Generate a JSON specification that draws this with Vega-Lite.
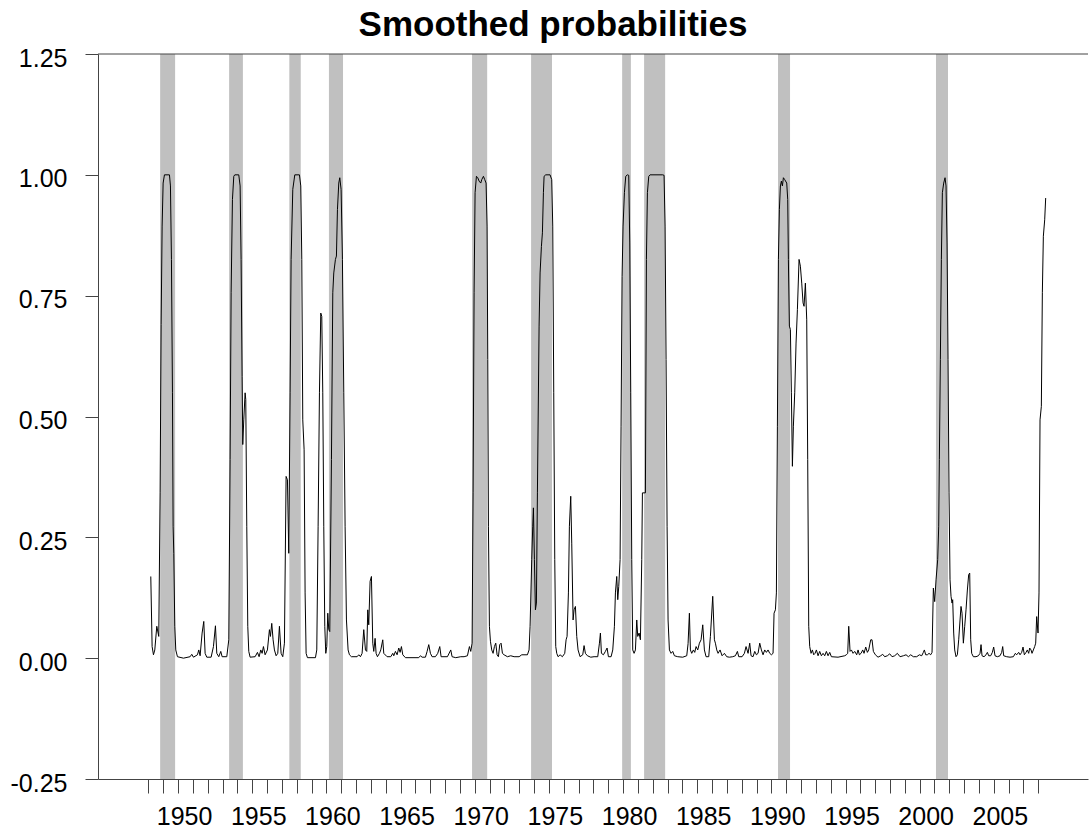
{
  "$schema": "https://vega.github.io/schema/vega-lite/v6.json",
  "width": 990,
  "height": 725,
  "autosize": {"type": "none"},
  "padding": {"left": 98, "top": 54, "right": 3, "bottom": 51},
  "background": "white",
  "title": {"text": "Smoothed probabilities", "font": "Liberation Sans", "fontSize": 35, "fontWeight": "bold", "color": "black", "anchor": "middle", "frame": "group", "baseline": "alphabetic", "offset": -25, "dx": -40},
  "config": {"view": {"stroke": null}},
  "datasets": {
    "recessions": [
      {"start": 1948.79, "end": 1949.8},
      {"start": 1953.44, "end": 1954.37},
      {"start": 1957.5, "end": 1958.27},
      {"start": 1960.17, "end": 1961.12},
      {"start": 1969.82, "end": 1970.84},
      {"start": 1973.8, "end": 1975.21},
      {"start": 1979.94, "end": 1980.53},
      {"start": 1981.42, "end": 1982.84},
      {"start": 1990.45, "end": 1991.26},
      {"start": 2001.1, "end": 2001.91}
    ],
    "probs": [
      {"date": 1948.159, "prob": 0.169}, {"date": 1948.249, "prob": 0.024}, {"date": 1948.339, "prob": 0.007}, {"date": 1948.429, "prob": 0.017},
      {"date": 1948.564, "prob": 0.066}, {"date": 1948.698, "prob": 0.045}, {"date": 1948.788, "prob": 0.342}, {"date": 1948.856, "prob": 0.69},
      {"date": 1948.923, "prob": 0.894}, {"date": 1948.991, "prob": 0.983}, {"date": 1949.08, "prob": 1.0}, {"date": 1949.418, "prob": 1.0},
      {"date": 1949.485, "prob": 0.977}, {"date": 1949.552, "prob": 0.825}, {"date": 1949.62, "prob": 0.549}, {"date": 1949.665, "prob": 0.273},
      {"date": 1949.71, "prob": 0.217}, {"date": 1949.777, "prob": 0.066}, {"date": 1949.844, "prob": 0.017}, {"date": 1949.957, "prob": 0.003},
      {"date": 1950.361, "prob": 0.0}, {"date": 1950.811, "prob": 0.003}, {"date": 1950.923, "prob": 0.008}, {"date": 1951.036, "prob": 0.002},
      {"date": 1951.305, "prob": 0.007}, {"date": 1951.395, "prob": 0.017}, {"date": 1951.485, "prob": 0.005}, {"date": 1951.62, "prob": 0.052},
      {"date": 1951.732, "prob": 0.076}, {"date": 1951.822, "prob": 0.01}, {"date": 1951.934, "prob": 0.002}, {"date": 1952.227, "prob": 0.002},
      {"date": 1952.384, "prob": 0.024}, {"date": 1952.519, "prob": 0.067}, {"date": 1952.609, "prob": 0.01}, {"date": 1952.743, "prob": 0.003},
      {"date": 1952.878, "prob": 0.014}, {"date": 1952.968, "prob": 0.003}, {"date": 1953.283, "prob": 0.003}, {"date": 1953.418, "prob": 0.038},
      {"date": 1953.507, "prob": 0.411}, {"date": 1953.575, "prob": 0.756}, {"date": 1953.665, "prob": 0.949}, {"date": 1953.755, "prob": 0.997},
      {"date": 1953.822, "prob": 1.0}, {"date": 1954.092, "prob": 1.0}, {"date": 1954.182, "prob": 0.977}, {"date": 1954.249, "prob": 0.825},
      {"date": 1954.316, "prob": 0.583}, {"date": 1954.361, "prob": 0.442}, {"date": 1954.429, "prob": 0.493}, {"date": 1954.519, "prob": 0.549},
      {"date": 1954.564, "prob": 0.535}, {"date": 1954.631, "prob": 0.273}, {"date": 1954.698, "prob": 0.066}, {"date": 1954.766, "prob": 0.014},
      {"date": 1954.856, "prob": 0.002}, {"date": 1955.193, "prob": 0.003}, {"date": 1955.35, "prob": 0.012}, {"date": 1955.462, "prob": 0.003},
      {"date": 1955.575, "prob": 0.017}, {"date": 1955.665, "prob": 0.01}, {"date": 1955.755, "prob": 0.024}, {"date": 1955.867, "prob": 0.007},
      {"date": 1956.024, "prob": 0.017}, {"date": 1956.159, "prob": 0.059}, {"date": 1956.227, "prob": 0.045}, {"date": 1956.316, "prob": 0.072},
      {"date": 1956.406, "prob": 0.038}, {"date": 1956.496, "prob": 0.017}, {"date": 1956.609, "prob": 0.005}, {"date": 1956.721, "prob": 0.01},
      {"date": 1956.833, "prob": 0.066}, {"date": 1956.946, "prob": 0.01}, {"date": 1957.058, "prob": 0.003}, {"date": 1957.17, "prob": 0.031},
      {"date": 1957.283, "prob": 0.376}, {"date": 1957.373, "prob": 0.369}, {"date": 1957.462, "prob": 0.217}, {"date": 1957.552, "prob": 0.549},
      {"date": 1957.62, "prob": 0.825}, {"date": 1957.733, "prob": 0.97}, {"date": 1957.868, "prob": 1.0}, {"date": 1958.182, "prob": 1.0},
      {"date": 1958.272, "prob": 0.977}, {"date": 1958.34, "prob": 0.825}, {"date": 1958.407, "prob": 0.493}, {"date": 1958.497, "prob": 0.431},
      {"date": 1958.564, "prob": 0.135}, {"date": 1958.632, "prob": 0.01}, {"date": 1958.722, "prob": 0.001}, {"date": 1959.261, "prob": 0.001},
      {"date": 1959.351, "prob": 0.017}, {"date": 1959.441, "prob": 0.273}, {"date": 1959.531, "prob": 0.549}, {"date": 1959.62, "prob": 0.714},
      {"date": 1959.688, "prob": 0.707}, {"date": 1959.755, "prob": 0.549}, {"date": 1959.823, "prob": 0.273}, {"date": 1959.89, "prob": 0.066},
      {"date": 1959.958, "prob": 0.01}, {"date": 1960.025, "prob": 0.024}, {"date": 1960.092, "prob": 0.093}, {"date": 1960.16, "prob": 0.059},
      {"date": 1960.227, "prob": 0.055}, {"date": 1960.34, "prob": 0.411}, {"date": 1960.43, "prob": 0.756}, {"date": 1960.497, "prob": 0.797},
      {"date": 1960.609, "prob": 0.825}, {"date": 1960.676, "prob": 0.832}, {"date": 1960.744, "prob": 0.928}, {"date": 1960.834, "prob": 0.983},
      {"date": 1960.901, "prob": 0.994}, {"date": 1960.991, "prob": 0.97}, {"date": 1961.081, "prob": 0.825}, {"date": 1961.171, "prob": 0.549},
      {"date": 1961.261, "prob": 0.273}, {"date": 1961.351, "prob": 0.079}, {"date": 1961.463, "prob": 0.017}, {"date": 1961.553, "prob": 0.007},
      {"date": 1961.688, "prob": 0.003}, {"date": 1962.07, "prob": 0.003}, {"date": 1962.182, "prob": 0.007}, {"date": 1962.295, "prob": 0.003},
      {"date": 1962.407, "prob": 0.01}, {"date": 1962.519, "prob": 0.059}, {"date": 1962.632, "prob": 0.017}, {"date": 1962.721, "prob": 0.014},
      {"date": 1962.789, "prob": 0.1}, {"date": 1962.856, "prob": 0.069}, {"date": 1962.946, "prob": 0.159}, {"date": 1963.036, "prob": 0.169},
      {"date": 1963.126, "prob": 0.031}, {"date": 1963.193, "prob": 0.014}, {"date": 1963.283, "prob": 0.041}, {"date": 1963.351, "prob": 0.01},
      {"date": 1963.441, "prob": 0.003}, {"date": 1963.576, "prob": 0.01}, {"date": 1963.666, "prob": 0.017}, {"date": 1963.8, "prob": 0.038},
      {"date": 1963.868, "prob": 0.01}, {"date": 1964.092, "prob": 0.003}, {"date": 1964.34, "prob": 0.003}, {"date": 1964.475, "prob": 0.01},
      {"date": 1964.542, "prob": 0.005}, {"date": 1964.654, "prob": 0.014}, {"date": 1964.767, "prob": 0.007}, {"date": 1964.879, "prob": 0.021},
      {"date": 1964.969, "prob": 0.012}, {"date": 1965.059, "prob": 0.024}, {"date": 1965.149, "prob": 0.007}, {"date": 1965.328, "prob": 0.001},
      {"date": 1966.227, "prob": 0.001}, {"date": 1966.34, "prob": 0.005}, {"date": 1966.452, "prob": 0.002}, {"date": 1966.677, "prob": 0.002},
      {"date": 1966.789, "prob": 0.014}, {"date": 1966.901, "prob": 0.028}, {"date": 1967.014, "prob": 0.01}, {"date": 1967.126, "prob": 0.003},
      {"date": 1967.351, "prob": 0.003}, {"date": 1967.508, "prob": 0.01}, {"date": 1967.643, "prob": 0.024}, {"date": 1967.733, "prob": 0.003},
      {"date": 1968.16, "prob": 0.003}, {"date": 1968.384, "prob": 0.017}, {"date": 1968.474, "prob": 0.003}, {"date": 1968.722, "prob": 0.001},
      {"date": 1969.059, "prob": 0.003}, {"date": 1969.283, "prob": 0.003}, {"date": 1969.508, "prob": 0.005}, {"date": 1969.643, "prob": 0.024},
      {"date": 1969.733, "prob": 0.014}, {"date": 1969.823, "prob": 0.031}, {"date": 1969.89, "prob": 0.342}, {"date": 1969.957, "prob": 0.756},
      {"date": 1970.025, "prob": 0.963}, {"date": 1970.115, "prob": 0.997}, {"date": 1970.205, "prob": 0.994}, {"date": 1970.295, "prob": 0.987},
      {"date": 1970.407, "prob": 0.983}, {"date": 1970.474, "prob": 0.99}, {"date": 1970.587, "prob": 0.997}, {"date": 1970.677, "prob": 0.99},
      {"date": 1970.766, "prob": 0.983}, {"date": 1970.834, "prob": 0.894}, {"date": 1970.879, "prob": 0.618}, {"date": 1970.924, "prob": 0.273},
      {"date": 1970.991, "prob": 0.066}, {"date": 1971.059, "prob": 0.035}, {"date": 1971.148, "prob": 0.017}, {"date": 1971.238, "prob": 0.01},
      {"date": 1971.328, "prob": 0.024}, {"date": 1971.418, "prob": 0.031}, {"date": 1971.508, "prob": 0.007}, {"date": 1971.598, "prob": 0.003},
      {"date": 1971.688, "prob": 0.028}, {"date": 1971.778, "prob": 0.031}, {"date": 1971.868, "prob": 0.01}, {"date": 1971.98, "prob": 0.007},
      {"date": 1972.205, "prob": 0.003}, {"date": 1972.429, "prob": 0.005}, {"date": 1972.654, "prob": 0.003}, {"date": 1972.991, "prob": 0.003},
      {"date": 1973.171, "prob": 0.007}, {"date": 1973.553, "prob": 0.007}, {"date": 1973.665, "prob": 0.017}, {"date": 1973.733, "prob": 0.066},
      {"date": 1973.845, "prob": 0.204}, {"date": 1973.912, "prob": 0.273}, {"date": 1973.957, "prob": 0.311}, {"date": 1974.025, "prob": 0.204},
      {"date": 1974.092, "prob": 0.1}, {"date": 1974.16, "prob": 0.114}, {"date": 1974.227, "prob": 0.342}, {"date": 1974.34, "prob": 0.687},
      {"date": 1974.407, "prob": 0.797}, {"date": 1974.497, "prob": 0.852}, {"date": 1974.564, "prob": 0.88}, {"date": 1974.632, "prob": 0.963},
      {"date": 1974.677, "prob": 0.997}, {"date": 1974.789, "prob": 1.0}, {"date": 1975.081, "prob": 1.0}, {"date": 1975.193, "prob": 0.99},
      {"date": 1975.261, "prob": 0.894}, {"date": 1975.328, "prob": 0.549}, {"date": 1975.396, "prob": 0.204}, {"date": 1975.463, "prob": 0.024},
      {"date": 1975.53, "prob": 0.01}, {"date": 1975.62, "prob": 0.003}, {"date": 1975.755, "prob": 0.007}, {"date": 1975.912, "prob": 0.003},
      {"date": 1976.07, "prob": 0.01}, {"date": 1976.16, "prob": 0.038}, {"date": 1976.227, "prob": 0.045}, {"date": 1976.317, "prob": 0.135},
      {"date": 1976.384, "prob": 0.273}, {"date": 1976.474, "prob": 0.335}, {"date": 1976.542, "prob": 0.238}, {"date": 1976.632, "prob": 0.079},
      {"date": 1976.699, "prob": 0.1}, {"date": 1976.789, "prob": 0.107}, {"date": 1976.879, "prob": 0.045}, {"date": 1976.968, "prob": 0.017},
      {"date": 1977.103, "prob": 0.003}, {"date": 1977.283, "prob": 0.007}, {"date": 1977.373, "prob": 0.026}, {"date": 1977.463, "prob": 0.01},
      {"date": 1977.598, "prob": 0.005}, {"date": 1977.823, "prob": 0.002}, {"date": 1978.047, "prob": 0.003}, {"date": 1978.295, "prob": 0.003},
      {"date": 1978.408, "prob": 0.031}, {"date": 1978.475, "prob": 0.052}, {"date": 1978.543, "prob": 0.01}, {"date": 1978.677, "prob": 0.007},
      {"date": 1978.812, "prob": 0.014}, {"date": 1978.925, "prob": 0.021}, {"date": 1979.014, "prob": 0.003}, {"date": 1979.194, "prob": 0.003},
      {"date": 1979.307, "prob": 0.017}, {"date": 1979.419, "prob": 0.066}, {"date": 1979.486, "prob": 0.135}, {"date": 1979.576, "prob": 0.169},
      {"date": 1979.644, "prob": 0.121}, {"date": 1979.711, "prob": 0.148}, {"date": 1979.801, "prob": 0.204}, {"date": 1979.868, "prob": 0.48},
      {"date": 1979.936, "prob": 0.79}, {"date": 1980.003, "prob": 0.894}, {"date": 1980.093, "prob": 0.963}, {"date": 1980.183, "prob": 0.997},
      {"date": 1980.295, "prob": 1.0}, {"date": 1980.385, "prob": 0.999}, {"date": 1980.453, "prob": 0.859}, {"date": 1980.52, "prob": 0.549},
      {"date": 1980.587, "prob": 0.204}, {"date": 1980.655, "prob": 0.017}, {"date": 1980.745, "prob": 0.01}, {"date": 1980.835, "prob": 0.017},
      {"date": 1980.925, "prob": 0.079}, {"date": 1980.992, "prob": 0.045}, {"date": 1981.082, "prob": 0.052}, {"date": 1981.172, "prob": 0.038},
      {"date": 1981.262, "prob": 0.204}, {"date": 1981.307, "prob": 0.342}, {"date": 1981.509, "prob": 0.342}, {"date": 1981.576, "prob": 0.825},
      {"date": 1981.644, "prob": 0.963}, {"date": 1981.734, "prob": 0.997}, {"date": 1981.823, "prob": 1.0}, {"date": 1982.677, "prob": 1.0},
      {"date": 1982.767, "prob": 0.999}, {"date": 1982.835, "prob": 0.894}, {"date": 1982.902, "prob": 0.618}, {"date": 1982.97, "prob": 0.273},
      {"date": 1983.037, "prob": 0.079}, {"date": 1983.127, "prob": 0.017}, {"date": 1983.239, "prob": 0.01}, {"date": 1983.352, "prob": 0.014},
      {"date": 1983.464, "prob": 0.005}, {"date": 1983.689, "prob": 0.003}, {"date": 1984.026, "prob": 0.002}, {"date": 1984.295, "prob": 0.005},
      {"date": 1984.385, "prob": 0.03}, {"date": 1984.475, "prob": 0.093}, {"date": 1984.543, "prob": 0.017}, {"date": 1984.632, "prob": 0.01},
      {"date": 1984.745, "prob": 0.017}, {"date": 1984.835, "prob": 0.012}, {"date": 1984.925, "prob": 0.024}, {"date": 1985.037, "prob": 0.017},
      {"date": 1985.15, "prob": 0.031}, {"date": 1985.262, "prob": 0.038}, {"date": 1985.374, "prob": 0.069}, {"date": 1985.486, "prob": 0.017},
      {"date": 1985.599, "prob": 0.003}, {"date": 1985.778, "prob": 0.003}, {"date": 1985.891, "prob": 0.045}, {"date": 1986.048, "prob": 0.128},
      {"date": 1986.161, "prob": 0.038}, {"date": 1986.228, "prob": 0.031}, {"date": 1986.318, "prob": 0.017}, {"date": 1986.408, "prob": 0.01},
      {"date": 1986.543, "prob": 0.017}, {"date": 1986.677, "prob": 0.005}, {"date": 1986.835, "prob": 0.01}, {"date": 1986.992, "prob": 0.003},
      {"date": 1987.172, "prob": 0.002}, {"date": 1987.397, "prob": 0.003}, {"date": 1987.576, "prob": 0.005}, {"date": 1987.711, "prob": 0.014},
      {"date": 1987.801, "prob": 0.003}, {"date": 1988.026, "prob": 0.003}, {"date": 1988.183, "prob": 0.01}, {"date": 1988.295, "prob": 0.024},
      {"date": 1988.43, "prob": 0.01}, {"date": 1988.542, "prob": 0.031}, {"date": 1988.632, "prob": 0.005}, {"date": 1988.767, "prob": 0.003},
      {"date": 1988.879, "prob": 0.014}, {"date": 1988.992, "prob": 0.007}, {"date": 1989.104, "prob": 0.01}, {"date": 1989.217, "prob": 0.031},
      {"date": 1989.329, "prob": 0.017}, {"date": 1989.441, "prob": 0.007}, {"date": 1989.554, "prob": 0.017}, {"date": 1989.666, "prob": 0.012},
      {"date": 1989.778, "prob": 0.017}, {"date": 1989.891, "prob": 0.01}, {"date": 1990.003, "prob": 0.007}, {"date": 1990.115, "prob": 0.01},
      {"date": 1990.183, "prob": 0.093}, {"date": 1990.273, "prob": 0.1}, {"date": 1990.34, "prob": 0.135}, {"date": 1990.408, "prob": 0.48},
      {"date": 1990.475, "prob": 0.825}, {"date": 1990.542, "prob": 0.928}, {"date": 1990.61, "prob": 0.977}, {"date": 1990.677, "prob": 0.987},
      {"date": 1990.745, "prob": 0.977}, {"date": 1990.812, "prob": 0.994}, {"date": 1990.902, "prob": 0.99}, {"date": 1991.037, "prob": 0.983},
      {"date": 1991.104, "prob": 0.949}, {"date": 1991.149, "prob": 0.825}, {"date": 1991.216, "prob": 0.687}, {"date": 1991.284, "prob": 0.68},
      {"date": 1991.351, "prob": 0.549}, {"date": 1991.419, "prob": 0.397}, {"date": 1991.486, "prob": 0.48}, {"date": 1991.576, "prob": 0.549},
      {"date": 1991.666, "prob": 0.652}, {"date": 1991.756, "prob": 0.721}, {"date": 1991.868, "prob": 0.825}, {"date": 1991.958, "prob": 0.811},
      {"date": 1992.048, "prob": 0.776}, {"date": 1992.138, "prob": 0.735}, {"date": 1992.205, "prob": 0.728}, {"date": 1992.295, "prob": 0.776},
      {"date": 1992.385, "prob": 0.7}, {"date": 1992.452, "prob": 0.411}, {"date": 1992.52, "prob": 0.066}, {"date": 1992.587, "prob": 0.024},
      {"date": 1992.677, "prob": 0.01}, {"date": 1992.767, "prob": 0.017}, {"date": 1992.857, "prob": 0.007}, {"date": 1992.947, "prob": 0.01},
      {"date": 1993.037, "prob": 0.017}, {"date": 1993.149, "prob": 0.005}, {"date": 1993.261, "prob": 0.014}, {"date": 1993.374, "prob": 0.005},
      {"date": 1993.486, "prob": 0.01}, {"date": 1993.599, "prob": 0.005}, {"date": 1993.711, "prob": 0.014}, {"date": 1993.823, "prob": 0.005},
      {"date": 1993.936, "prob": 0.012}, {"date": 1994.048, "prob": 0.003}, {"date": 1994.497, "prob": 0.002}, {"date": 1994.947, "prob": 0.005},
      {"date": 1995.059, "prob": 0.007}, {"date": 1995.149, "prob": 0.01}, {"date": 1995.217, "prob": 0.066}, {"date": 1995.307, "prob": 0.014},
      {"date": 1995.396, "prob": 0.017}, {"date": 1995.509, "prob": 0.01}, {"date": 1995.621, "prob": 0.014}, {"date": 1995.756, "prob": 0.007},
      {"date": 1995.846, "prob": 0.017}, {"date": 1995.936, "prob": 0.007}, {"date": 1996.048, "prob": 0.01}, {"date": 1996.161, "prob": 0.017},
      {"date": 1996.25, "prob": 0.01}, {"date": 1996.363, "prob": 0.023}, {"date": 1996.475, "prob": 0.012}, {"date": 1996.565, "prob": 0.017},
      {"date": 1996.7, "prob": 0.038}, {"date": 1996.789, "prob": 0.038}, {"date": 1996.879, "prob": 0.014}, {"date": 1997.014, "prob": 0.007},
      {"date": 1997.194, "prob": 0.002}, {"date": 1997.374, "prob": 0.005}, {"date": 1997.508, "prob": 0.008}, {"date": 1997.643, "prob": 0.003},
      {"date": 1997.823, "prob": 0.005}, {"date": 1997.981, "prob": 0.009}, {"date": 1998.138, "prob": 0.003}, {"date": 1998.318, "prob": 0.005},
      {"date": 1998.497, "prob": 0.01}, {"date": 1998.677, "prob": 0.003}, {"date": 1998.902, "prob": 0.005}, {"date": 1999.081, "prob": 0.007},
      {"date": 1999.239, "prob": 0.003}, {"date": 1999.396, "prob": 0.007}, {"date": 1999.576, "prob": 0.003}, {"date": 1999.801, "prob": 0.003},
      {"date": 1999.98, "prob": 0.007}, {"date": 2000.138, "prob": 0.005}, {"date": 2000.25, "prob": 0.012}, {"date": 2000.317, "prob": 0.017},
      {"date": 2000.407, "prob": 0.007}, {"date": 2000.52, "prob": 0.007}, {"date": 2000.632, "prob": 0.01}, {"date": 2000.744, "prob": 0.007},
      {"date": 2000.834, "prob": 0.012}, {"date": 2000.924, "prob": 0.145}, {"date": 2001.014, "prob": 0.117}, {"date": 2001.104, "prob": 0.162},
      {"date": 2001.216, "prob": 0.204}, {"date": 2001.284, "prob": 0.273}, {"date": 2001.329, "prob": 0.411}, {"date": 2001.396, "prob": 0.618},
      {"date": 2001.463, "prob": 0.825}, {"date": 2001.531, "prob": 0.963}, {"date": 2001.621, "prob": 0.983}, {"date": 2001.711, "prob": 0.994},
      {"date": 2001.778, "prob": 0.977}, {"date": 2001.846, "prob": 0.859}, {"date": 2001.913, "prob": 0.618}, {"date": 2001.98, "prob": 0.342},
      {"date": 2002.048, "prob": 0.162}, {"date": 2002.115, "prob": 0.128}, {"date": 2002.183, "prob": 0.114}, {"date": 2002.227, "prob": 0.121},
      {"date": 2002.295, "prob": 0.052}, {"date": 2002.362, "prob": 0.017}, {"date": 2002.452, "prob": 0.003}, {"date": 2002.542, "prob": 0.007},
      {"date": 2002.632, "prob": 0.038}, {"date": 2002.722, "prob": 0.079}, {"date": 2002.789, "prob": 0.107}, {"date": 2002.857, "prob": 0.093},
      {"date": 2002.947, "prob": 0.031}, {"date": 2003.037, "prob": 0.066}, {"date": 2003.126, "prob": 0.1}, {"date": 2003.216, "prob": 0.141},
      {"date": 2003.306, "prob": 0.173}, {"date": 2003.374, "prob": 0.176}, {"date": 2003.441, "prob": 0.038}, {"date": 2003.508, "prob": 0.01},
      {"date": 2003.621, "prob": 0.003}, {"date": 2003.8, "prob": 0.003}, {"date": 2003.958, "prob": 0.005}, {"date": 2004.07, "prob": 0.01},
      {"date": 2004.138, "prob": 0.028}, {"date": 2004.205, "prob": 0.005}, {"date": 2004.34, "prob": 0.003}, {"date": 2004.475, "prob": 0.007},
      {"date": 2004.565, "prob": 0.012}, {"date": 2004.654, "prob": 0.005}, {"date": 2004.789, "prob": 0.005}, {"date": 2004.902, "prob": 0.012},
      {"date": 2004.991, "prob": 0.023}, {"date": 2005.081, "prob": 0.005}, {"date": 2005.239, "prob": 0.003}, {"date": 2005.418, "prob": 0.005},
      {"date": 2005.531, "prob": 0.012}, {"date": 2005.598, "prob": 0.024}, {"date": 2005.666, "prob": 0.005}, {"date": 2005.868, "prob": 0.003},
      {"date": 2006.093, "prob": 0.002}, {"date": 2006.317, "prob": 0.003}, {"date": 2006.452, "prob": 0.01}, {"date": 2006.542, "prob": 0.007},
      {"date": 2006.677, "prob": 0.012}, {"date": 2006.767, "prob": 0.007}, {"date": 2006.879, "prob": 0.012}, {"date": 2006.969, "prob": 0.023},
      {"date": 2007.059, "prob": 0.007}, {"date": 2007.171, "prob": 0.012}, {"date": 2007.261, "prob": 0.017}, {"date": 2007.351, "prob": 0.01},
      {"date": 2007.418, "prob": 0.021}, {"date": 2007.508, "prob": 0.017}, {"date": 2007.576, "prob": 0.01}, {"date": 2007.666, "prob": 0.017},
      {"date": 2007.755, "prob": 0.024}, {"date": 2007.823, "prob": 0.031}, {"date": 2007.89, "prob": 0.086}, {"date": 2007.98, "prob": 0.052},
      {"date": 2008.047, "prob": 0.135}, {"date": 2008.115, "prob": 0.493}, {"date": 2008.205, "prob": 0.521}, {"date": 2008.272, "prob": 0.756},
      {"date": 2008.34, "prob": 0.873}, {"date": 2008.43, "prob": 0.907}, {"date": 2008.497, "prob": 0.952}
    ]
  },
  "layer": [
    {
      "data": {"name": "recessions"},
      "mark": {"type": "rect", "color": "#c0c0c0"},
      "encoding": {
        "x": {
          "field": "start", "type": "quantitative",
          "scale": {"domain": [1944.6, 2011.35], "nice": false, "zero": false},
          "axis": {
            "values": [1948,1949,1950,1951,1952,1953,1954,1955,1956,1957,1958,1959,1960,1961,1962,1963,1964,1965,1966,1967,1968,1969,1970,1971,1972,1973,1974,1975,1976,1977,1978,1979,1980,1981,1982,1983,1984,1985,1986,1987,1988,1989,1990,1991,1992,1993,1994,1995,1996,1997,1998,1999,2000,2001,2002,2003,2004,2005,2006,2007,2008],
            "tickCount": 200,
            "format": "d",
            "labelExpr": "datum.value % 5 === 0 ? datum.label : ''",
            "title": null, "grid": false,
            "tickSize": 14, "tickColor": "#444444", "tickWidth": 1,
            "domainColor": "#444444", "domainWidth": 1,
            "labelFont": "Liberation Sans", "labelFontSize": 25, "labelColor": "black",
            "labelOffset": 6, "labelPadding": 11, "labelFlush": false, "labelOverlap": false
          }
        },
        "x2": {"field": "end"},
        "y": {"datum": -0.25, "type": "quantitative"},
        "y2": {"datum": 1.25}
      }
    },
    {
      "data": {"name": "probs"},
      "mark": {"type": "line", "color": "black", "strokeWidth": 1},
      "encoding": {
        "x": {"field": "date", "type": "quantitative"},
        "y": {
          "field": "prob", "type": "quantitative",
          "scale": {"domain": [-0.25, 1.25], "nice": false, "zero": false},
          "axis": {
            "values": [-0.25, 0, 0.25, 0.5, 0.75, 1, 1.25],
            "tickCount": 50,
            "format": ".2f",
            "labelExpr": "replace(datum.label, '\u2212', '-')",
            "title": null, "grid": false,
            "tickSize": 13, "tickColor": "#444444", "tickWidth": 1,
            "domainColor": "#444444", "domainWidth": 1,
            "labelFont": "Liberation Sans", "labelFontSize": 25, "labelColor": "black",
            "labelPadding": 18, "labelOffset": 4, "labelFlush": false, "labelOverlap": false
          }
        }
      }
    },
    {
      "data": {"values": [{"top": 1.25}]},
      "mark": {"type": "rule", "color": "#444444", "strokeWidth": 1},
      "encoding": {"y": {"field": "top", "type": "quantitative"}}
    }
  ]
}
